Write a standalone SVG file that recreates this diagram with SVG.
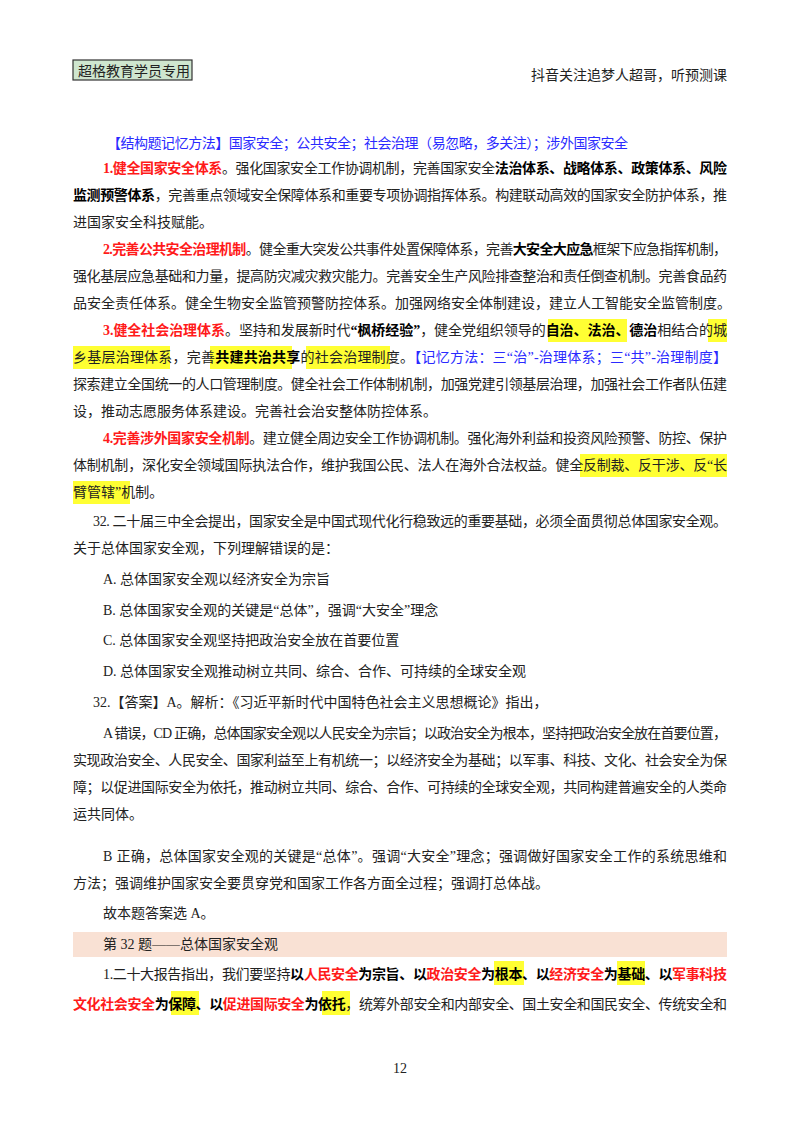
<svg xmlns="http://www.w3.org/2000/svg" width="800" height="1132" viewBox="0 0 800 1132">
<style>
text{font-family:"Liberation Serif","Noto Sans CJK SC",serif;font-size:14px;fill:#222}
.r{fill:#ff1a1a;font-weight:bold}
.b{font-weight:bold;fill:#000}
.bl{fill:#2a2aff}
.hl{fill:#ffff33}
</style>
<rect width="800" height="1132" fill="#fff"/>
<g id="header">
<rect x="73" y="60" width="119" height="20" fill="#cfe6cf" stroke="#333" stroke-width="1.2"/>
<text x="78" y="75.5">超格教育学员专用</text>
<text x="727" y="80" text-anchor="end">抖音关注追梦人超哥，听预测课</text>
</g>
<g id="highlights">
<rect class="hl" x="548" y="319" width="79" height="23"/>
<rect class="hl" x="708" y="319" width="19" height="23"/>
<rect class="hl" x="73" y="346" width="97" height="23"/>
<rect class="hl" x="210" y="346" width="82" height="23"/>
<rect class="hl" x="306" y="346" width="84" height="23"/>
<rect class="hl" x="580" y="454" width="147" height="23"/>
<rect class="hl" x="73" y="481" width="57" height="23"/>
<rect x="73" y="932" width="654" height="25" fill="#f9e1d4"/>
<rect class="hl" x="494" y="961" width="30" height="24"/>
<rect class="hl" x="617" y="961" width="28" height="24"/>
<rect class="hl" x="171" y="991" width="28" height="24"/>
<rect class="hl" x="322" y="991" width="28" height="24"/>
</g>
<g id="body">
<text x="107" y="148" class="bl" textLength="521" lengthAdjust="spacing">【结构题记忆方法】国家安全；公共安全；社会治理（易忽略，多关注）；涉外国家安全</text>
<text x="103" y="173" textLength="624" lengthAdjust="spacing"><tspan class="r">1.健全国家安全体系</tspan>。强化国家安全工作协调机制，完善国家安全<tspan class="b">法治体系、战略体系、政策体系、风险</tspan></text>
<text x="73" y="200" textLength="654" lengthAdjust="spacing"><tspan class="b">监测预警体系</tspan>，完善重点领域安全保障体系和重要专项协调指挥体系。构建联动高效的国家安全防护体系，推</text>
<text x="73" y="227">进国家安全科技赋能。</text>
<text x="103" y="254" textLength="624" lengthAdjust="spacing"><tspan class="r">2.完善公共安全治理机制</tspan>。健全重大突发公共事件处置保障体系，完善<tspan class="b">大安全大应急</tspan>框架下应急指挥机制，</text>
<text x="73" y="281" textLength="654" lengthAdjust="spacing">强化基层应急基础和力量，提高防灾减灾救灾能力。完善安全生产风险排查整治和责任倒查机制。完善食品药</text>
<text x="73" y="308">品安全责任体系。健全生物安全监管预警防控体系。加强网络安全体制建设，建立人工智能安全监管制度。</text>
<text x="103" y="335" textLength="624" lengthAdjust="spacing"><tspan class="r">3.健全社会治理体系</tspan>。坚持和发展新时代<tspan class="b">“枫桥经验”</tspan>，健全党组织领导的<tspan class="b">自治、法治、德治</tspan>相结合的城</text>
<text x="73" y="362" textLength="654" lengthAdjust="spacing">乡基层治理体系，完善<tspan class="b">共建共治共享</tspan>的社会治理制度。<tspan class="bl">【记忆方法：三“治”-治理体系；三“共”-治理制度】</tspan></text>
<text x="73" y="389" textLength="654" lengthAdjust="spacing">探索建立全国统一的人口管理制度。健全社会工作体制机制，加强党建引领基层治理，加强社会工作者队伍建</text>
<text x="73" y="416">设，推动志愿服务体系建设。完善社会治安整体防控体系。</text>
<text x="103" y="443" textLength="624" lengthAdjust="spacing"><tspan class="r">4.完善涉外国家安全机制</tspan>。建立健全周边安全工作协调机制。强化海外利益和投资风险预警、防控、保护</text>
<text x="73" y="470" textLength="654" lengthAdjust="spacing">体制机制，深化安全领域国际执法合作，维护我国公民、法人在海外合法权益。健全反制裁、反干涉、反“长</text>
<text x="73" y="497">臂管辖”机制。</text>
<text x="93" y="526" textLength="634" lengthAdjust="spacing">32. 二十届三中全会提出，国家安全是中国式现代化行稳致远的重要基础，必须全面贯彻总体国家安全观。</text>
<text x="73" y="553">关于总体国家安全观，下列理解错误的是：</text>
<text x="103" y="584">A. 总体国家安全观以经济安全为宗旨</text>
<text x="103" y="615">B. 总体国家安全观的关键是“总体”，强调“大安全”理念</text>
<text x="103" y="645">C. 总体国家安全观坚持把政治安全放在首要位置</text>
<text x="103" y="676">D. 总体国家安全观推动树立共同、综合、合作、可持续的全球安全观</text>
<text x="93" y="707">32.【答案】A。解析：《习近平新时代中国特色社会主义思想概论》指出，</text>
<text x="103" y="738" textLength="624" lengthAdjust="spacing">A 错误，CD 正确，总体国家安全观以人民安全为宗旨；以政治安全为根本，坚持把政治安全放在首要位置，</text>
<text x="73" y="765" textLength="654" lengthAdjust="spacing">实现政治安全、人民安全、国家利益至上有机统一；以经济安全为基础；以军事、科技、文化、社会安全为保</text>
<text x="73" y="792" textLength="654" lengthAdjust="spacing">障；以促进国际安全为依托，推动树立共同、综合、合作、可持续的全球安全观，共同构建普遍安全的人类命</text>
<text x="73" y="819">运共同体。</text>
<text x="103" y="861" textLength="624" lengthAdjust="spacing">B 正确，总体国家安全观的关键是“总体”。强调“大安全”理念；强调做好国家安全工作的系统思维和</text>
<text x="73" y="888">方法；强调维护国家安全要贯穿党和国家工作各方面全过程；强调打总体战。</text>
<text x="103" y="918">故本题答案选 A。</text>
<text x="103" y="949">第 32 题——总体国家安全观</text>
<text x="103" y="979" textLength="624" lengthAdjust="spacing">1.二十大报告指出，我们要坚持<tspan class="b">以</tspan><tspan class="r">人民安全</tspan><tspan class="b">为宗旨、以</tspan><tspan class="r">政治安全</tspan><tspan class="b">为根本、以</tspan><tspan class="r">经济安全</tspan><tspan class="b">为基础、以</tspan><tspan class="r">军事科技</tspan></text>
<text x="73" y="1009" textLength="654" lengthAdjust="spacing"><tspan class="r">文化社会安全</tspan><tspan class="b">为保障、以</tspan><tspan class="r">促进国际安全</tspan><tspan class="b">为依托</tspan>，统筹外部安全和内部安全、国土安全和国民安全、传统安全和</text>
<text x="400" y="1073" text-anchor="middle" font-size="12">12</text>
</g>
</svg>
